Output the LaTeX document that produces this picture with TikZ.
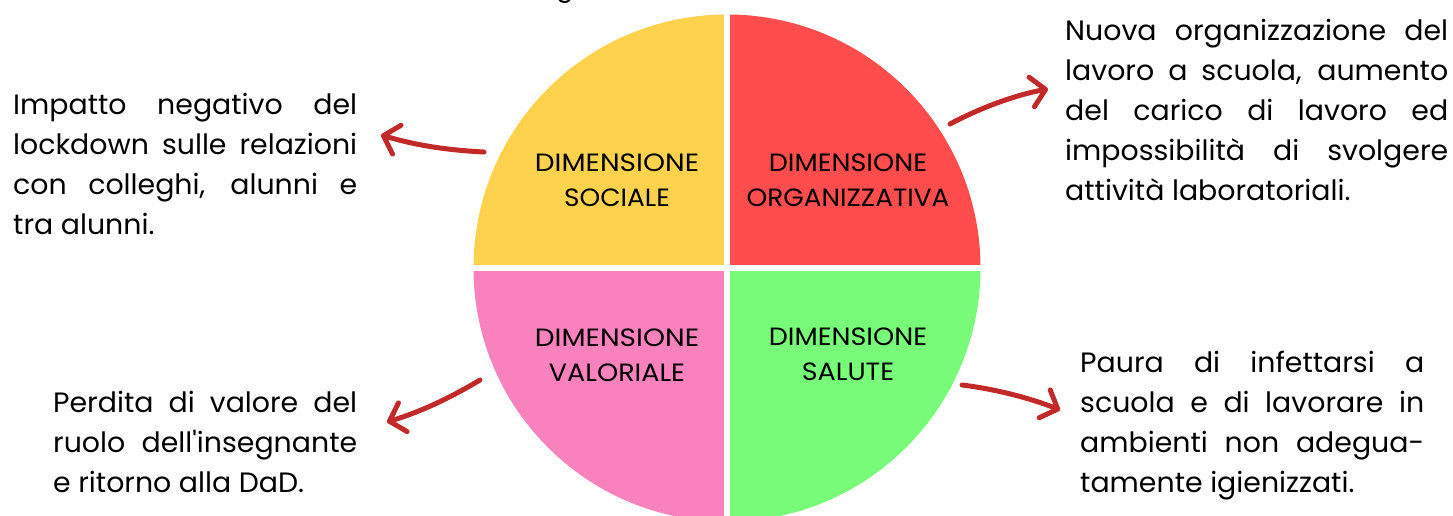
\documentclass[tikz,border=0pt]{standalone}
\usepackage{fontspec}
\setmainfont{Poppins}
\newfontfamily\labfont[FakeStretch=1.12]{Poppins}
\newfontfamily\labfontb[FakeStretch=1.08]{Poppins}
\newfontfamily\labfontc[FakeStretch=1.055]{Poppins}
\newfontfamily\descfont[FakeStretch=1.014]{Poppins}
\usetikzlibrary{arrows.meta}
\definecolor{qyellow}{HTML}{FFD24D}
\definecolor{qred}{HTML}{FF4C4C}
\definecolor{qpink}{HTML}{F981BE}
\definecolor{qgreen}{HTML}{77FB79}
\definecolor{arrowred}{HTML}{C22A2A}
\tikzset{
  dimlabel/.style={align=center,font=\fontsize{25}{34.5}\labfont\selectfont,text=black,inner sep=0pt},
  desc/.style={align=justify,font=\descfont\fontsize{28}{40}\selectfont,text=black,inner sep=0pt,anchor=north west},
  curvearrow/.style={draw=arrowred,line width=5pt,line cap=round,-{Straight Barb[length=14pt,width=30pt,line width=5pt,round]}},
  gapline/.style={draw=white,line width=6pt}
}
\begin{document}
\begin{tikzpicture}[x=1pt,y=-1pt]
\useasboundingbox (0,0) rectangle (1453,515);
\clip (0,0) rectangle (1453,515);
\coordinate (c) at (727,268);
\fill[qyellow] (c) -- ++(-253.5,0) arc[start angle=180,end angle=270,radius=253.5] -- cycle;
\fill[qred] (c) -- ++(0,-253.5) arc[start angle=270,end angle=360,radius=253.5] -- cycle;
\fill[qgreen] (c) -- ++(253.5,0) arc[start angle=0,end angle=90,radius=253.5] -- cycle;
\fill[qpink] (c) -- ++(0,253.5) arc[start angle=90,end angle=180,radius=253.5] -- cycle;
\draw[gapline] (727,10) -- (727,520);
\draw[gapline] (465,268) -- (990,268);
\node[dimlabel] (soc) at (617,180.5) {DIMENSIONE\\{\labfontc\fontsize{25}{34.5}\selectfont SOCIALE}};
\node[dimlabel] (org) at (848,180.5) {{\labfontb\fontsize{25}{34.5}\selectfont DIMENSIONE}\\{\labfontc\fontsize{25}{34.5}\selectfont ORGANIZZATIVA}};
\node[dimlabel] (val) at (617,355.5) {DIMENSIONE\\{\labfontb\fontsize{25}{34.5}\selectfont VALORIALE}};
\node[dimlabel] (sal) at (848,354.5) {{\labfontb\fontsize{25}{34.5}\selectfont DIMENSIONE}\\{\labfontb\fontsize{25}{34.5}\selectfont SALUTE}};
\node[desc,text width=344pt] (tsoc) at (13,92.5) {Impatto negativo del\linebreak lockdown sulle relazioni\linebreak con colleghi, alunni e\linebreak tra alunni.};
\node[desc,text width=383pt] (torg) at (1065,18.5) {Nuova organizzazione del\linebreak lavoro a scuola, aumento\linebreak del carico di lavoro ed\linebreak impossibilità di svolgere\linebreak attività laboratoriali.};
\node[desc,text width=304pt] (tval) at (53,390.5) {Perdita di valore del\linebreak ruolo dell\symbol{39}insegnante\linebreak e ritorno alla DaD.};
\node[desc,text width=344pt] (tsal) at (1080,350.5) {Paura di infettarsi a\linebreak scuola e di lavorare in\linebreak ambienti non adegua-\linebreak tamente igienizzati.};
\node[font=\fontsize{26}{30}\selectfont,anchor=base,inner sep=0pt] (frag) at (565,-4) {g};
\coordinate (s1) at (484,152); \coordinate (e1) at (381,135);
\coordinate (s2) at (950,124); \coordinate (e2) at (1048,89);
\coordinate (s3) at (480,380); \coordinate (e3) at (387,422);
\coordinate (s4) at (962,385); \coordinate (e4) at (1060,410);
\draw[curvearrow] (s1) .. controls (445,150) and (415,145) .. (e1);
\draw[curvearrow] (s2) .. controls (980,108) and (1015,95) .. (e2);
\draw[curvearrow] (s3) .. controls (450,398) and (420,412) .. (e3);
\draw[curvearrow] (s4) .. controls (995,389) and (1030,398) .. (e4);
\end{tikzpicture}
\end{document}
